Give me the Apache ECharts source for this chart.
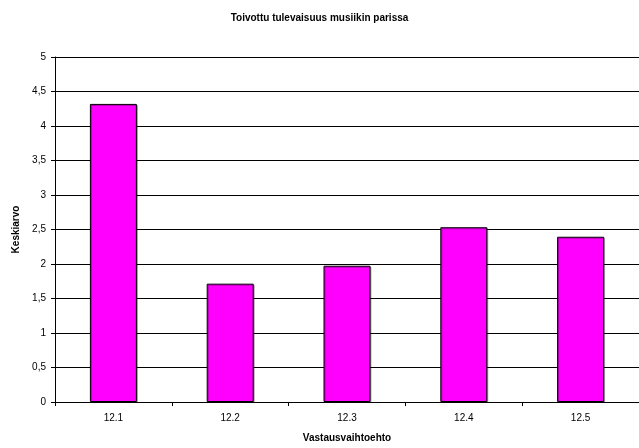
<!DOCTYPE html>
<html><head><meta charset="utf-8">
<script src="https://cdn.jsdelivr.net/npm/echarts@6/dist/echarts.min.js"></script>
<style>html,body{margin:0;padding:0;background:#fff}#c{width:639px;height:448px}</style>
</head><body><div id="c"></div>
<script>
var categories = ['12.1', '12.2', '12.3', '12.4', '12.5'];
var values = [4.32, 1.715, 1.975, 2.533, 2.395];
var titleText = 'Toivottu tulevaisuus musiikin parissa';
var xName = 'Vastausvaihtoehto';
var yName = 'Keskiarvo';

var chart = echarts.init(document.getElementById('c'));
chart.setOption({
  animation: false,
  backgroundColor: '#ffffff',
  title: {
    text: titleText, left: 'center', top: 8,
    textStyle: {fontFamily: 'Liberation Sans', fontSize: 10, fontWeight: 'bold', color: '#000'}
  },
  grid: {left: 55, right: -11, top: 57, bottom: 45},
  xAxis: {
    type: 'category', data: categories,
    name: xName, nameLocation: 'middle', nameGap: 31,
    nameTextStyle: {fontFamily: 'Liberation Sans', fontSize: 10, fontWeight: 'bold', color: '#000'},
    axisLine: {lineStyle: {color: '#000', width: 1}},
    axisTick: {show: true, alignWithLabel: false, length: 4, lineStyle: {color: '#000'}},
    axisLabel: {fontFamily: 'Liberation Sans', fontSize: 10, color: '#000', margin: 11},
    splitLine: {show: false}
  },
  yAxis: {
    type: 'value', min: 0, max: 5, interval: 0.5,
    name: yName, nameLocation: 'middle', nameGap: 33, nameRotate: 90,
    nameTextStyle: {fontFamily: 'Liberation Sans', fontSize: 10, fontWeight: 'bold', color: '#000'},
    axisLine: {show: true, lineStyle: {color: '#000', width: 1}},
    axisTick: {show: true, length: 4, lineStyle: {color: '#000'}},
    axisLabel: {fontFamily: 'Liberation Sans', fontSize: 10, color: '#000', margin: 9,
      formatter: function (v) { return String(v).replace('.', ','); }},
    splitLine: {show: true, lineStyle: {color: '#000', width: 1}}
  },
  series: [{
    type: 'bar', data: values, barWidth: 47,
    itemStyle: {color: '#ff00ff', borderColor: '#000', borderWidth: 1,
      shadowColor: 'rgba(0,0,0,0.3)', shadowOffsetX: 1, shadowOffsetY: 1, shadowBlur: 0}
  }]
});
</script></body></html>
